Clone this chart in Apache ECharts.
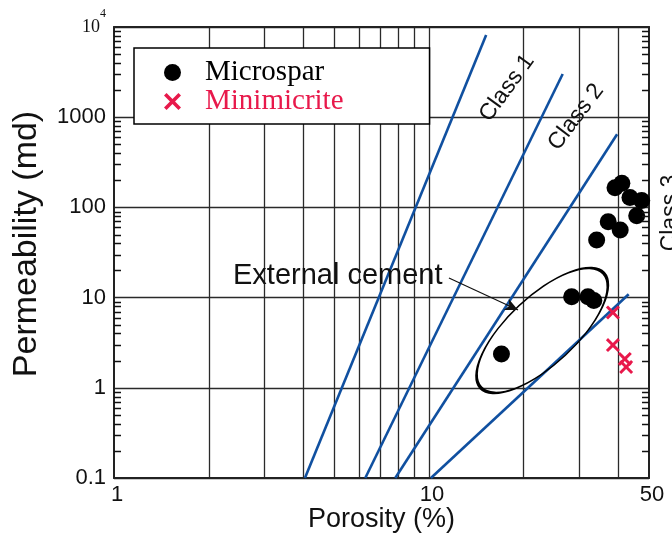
<!DOCTYPE html>
<html><head><meta charset="utf-8">
<script src="https://cdn.jsdelivr.net/npm/echarts@6/dist/echarts.min.js"></script>
<style>html,body{margin:0;padding:0;background:#fff}#c{width:672px;height:535px}</style>
</head><body><div id="c"></div>
<script>
// ---- data (porosity %, permeability md) ----
const microspar = [[39.0,165],[41.0,185],[43.5,129],[47.4,119],[45.7,81],[37.1,69.4],[40.5,56.2],[34.1,43.5],[28.4,10.2],[32.0,10.2],[33.4,9.3],[17.0,2.37]];
const minimicrite = [[38.4,6.84],[38.4,2.98],[41.9,2.09],[42.3,1.70]];
const boundaryA = [[4.04,0.1],[15.2,8150]];
const boundaryB = [[6.28,0.1],[26.6,3010]];
const boundaryC = [[7.82,0.1],[39.6,646]];
const boundaryD = [[10.15,0.1],[43.1,10.9]];
const cementCenter = [[22.9,4.32]];
const cementArrow = [[11.58,16.5],[19.19,7.29]];
// ---- ticks ----
const xLabelValues = [1,10,50];
const xGridValues = [2,3,4,5,6,7,8,9,10,20,30,40];
const yDecades = [0.1,1,10,100,1000,10000];
const yMinorMultipliers = [2,3,4,5,6,7,8,9];
const classLabels = ['Class 1','Class 2','Class 3'];

const yMinorTicks = [];
yDecades.slice(0,-1).forEach(d => yMinorMultipliers.forEach(m => yMinorTicks.push(Number((d*m).toPrecision(6)))));

const SANS = '"Liberation Sans", Arial, sans-serif';
const SERIF = '"Liberation Serif", "Times New Roman", serif';
const BLUE = '#1050a0';
const RED = '#e8194b';
const crossPath = 'path://M0,1.5L1.5,0L5,3.5L8.5,0L10,1.5L6.5,5L10,8.5L8.5,10L5,6.5L1.5,10L0,8.5L3.5,5Z';

const frame = {show:true, onZero:false, lineStyle:{color:'#222', width:2}};
const gridLine = {show:true, lineStyle:{color:'#2a2a2a', width:1.3, type:'solid'}};

function boundary(data){
  return {type:'line', data, xAxisIndex:0, yAxisIndex:0, symbol:'none', silent:true, z:3,
    lineStyle:{color:BLUE, width:2.6}};
}

const textGraphics = [
  {type:'text', x:233, y:276, z:10, style:{text:'External cement', fontFamily:SANS, fontSize:29, fill:'#111', align:'left', verticalAlign:'middle'}},
  {type:'text', x:507, y:88, z:10, rotation:54*Math.PI/180, style:{text:classLabels[0], fontFamily:SANS, fontSize:23, fill:'#111', align:'center', verticalAlign:'middle'}},
  {type:'text', x:576, y:117, z:10, rotation:53*Math.PI/180, style:{text:classLabels[1], fontFamily:SANS, fontSize:23, fill:'#111', align:'center', verticalAlign:'middle'}},
  {type:'text', x:671, y:213, z:10, rotation:Math.PI/2, style:{text:classLabels[2], fontFamily:SANS, fontSize:23, fill:'#111', align:'center', verticalAlign:'middle'}}
];

const chart = echarts.init(document.getElementById('c'), null, {renderer:'canvas'});
chart.setOption({
  animation:false,
  backgroundColor:'#fff',
  grid:{left:114, right:23, top:27, bottom:57, containLabel:false, outerBoundsMode:'none'},
  legend:{
    data:[{name:'Microspar', textStyle:{color:'#000'}},{name:'Minimicrite', textStyle:{color:RED}}],
    orient:'vertical', left:134, top:48, itemWidth:17, itemHeight:17, itemGap:0,
    padding:[10,86,8,30], backgroundColor:'#fff', borderColor:'#000', borderWidth:1.5,
    selectedMode:false,
    textStyle:{fontFamily:SERIF, fontSize:29, lineHeight:27, padding:[0,0,0,19]}
  },
  xAxis:[
    {type:'log', logBase:10, min:1, max:50, position:'bottom',
     axisLine:frame,
     axisTick:{show:false, customValues:xGridValues},
     splitLine:gridLine,
     axisLabel:{customValues:xLabelValues, formatter:v=>String(v), fontFamily:SANS, fontSize:22, color:'#111', margin:6, padding:[0,0,0,6]},
     name:'Porosity (%)', nameLocation:'middle', nameGap:28, nameMoveOverlap:false,
     nameTextStyle:{fontFamily:SANS, fontSize:27, color:'#111'}},
    {type:'log', logBase:10, min:1, max:50, position:'top',
     axisLine:frame, axisTick:{show:false}, axisLabel:{show:false}, splitLine:{show:false}}
  ],
  yAxis:[
    {type:'log', logBase:10, min:0.1, max:10000, position:'left',
     axisLine:frame,
     axisTick:{show:false, customValues:yDecades},
     splitLine:gridLine,
     axisLabel:{customValues:yDecades, fontFamily:SANS, fontSize:22, color:'#111', margin:8,
       formatter:v=> v>=10000 ? '{a|10}{b|4}' : String(v),
       rich:{a:{fontFamily:SERIF, fontSize:18, color:'#111'}, b:{fontFamily:SERIF, fontSize:12, color:'#111', padding:[0,0,26,0]}}},
     name:'Permeability (md)', nameLocation:'middle', nameGap:70, nameMoveOverlap:false,
     nameTextStyle:{fontFamily:SANS, fontSize:34, color:'#111', padding:[0,0,0,17]}},
    {type:'log', logBase:10, min:0.1, max:10000, position:'right',
     axisLine:frame, axisTick:{show:false}, axisLabel:{show:false}, splitLine:{show:false}}
  ],
  series:[
    boundary(boundaryA), boundary(boundaryB), boundary(boundaryC), boundary(boundaryD),
    {name:'External cement', type:'scatter', data:cementCenter, symbol:'circle', symbolSize:[168,68], symbolRotate:43,
     silent:true, z:4, emphasis:{disabled:true},
     itemStyle:{color:'rgba(0,0,0,0)', borderColor:'#000', borderWidth:2.2, opacity:1},
     markLine:{silent:true, symbol:['none','arrow'], symbolSize:[9,13], animation:false,
       lineStyle:{color:'#111', width:1.2, type:'solid'}, label:{show:false}, emphasis:{disabled:true},
       data:[[{coord:cementArrow[0]},{coord:cementArrow[1]}]]}},
    {name:'Microspar', type:'scatter', data:microspar, symbol:'circle', symbolSize:17, z:5,
     itemStyle:{color:'#000', opacity:1}},
    {name:'Minimicrite', type:'scatter', data:minimicrite, symbol:crossPath, symbolSize:14, z:5,
     itemStyle:{color:RED, opacity:1}}
  ],
  graphic:textGraphics
});

// inside minor ticks on the left and right frame, positioned through the y axis scale
const TICK_PX = 7;
const xl = chart.convertToPixel({xAxisIndex:0}, 1);
const xr = chart.convertToPixel({xAxisIndex:0}, 50);
const tickEls = [];
yMinorTicks.forEach(v => {
  const y = Math.round(chart.convertToPixel({yAxisIndex:0}, v)) + 0.5;
  tickEls.push({type:'polyline', silent:true, z:100, shape:{points:[[xl, y],[xl+TICK_PX, y]]}, style:{stroke:'#111', lineWidth:1.5, fill:null}});
  tickEls.push({type:'polyline', silent:true, z:100, shape:{points:[[xr-TICK_PX, y],[xr, y]]}, style:{stroke:'#111', lineWidth:1.5, fill:null}});
});
chart.setOption({graphic:{elements: textGraphics.concat(tickEls)}});
</script></body></html>
